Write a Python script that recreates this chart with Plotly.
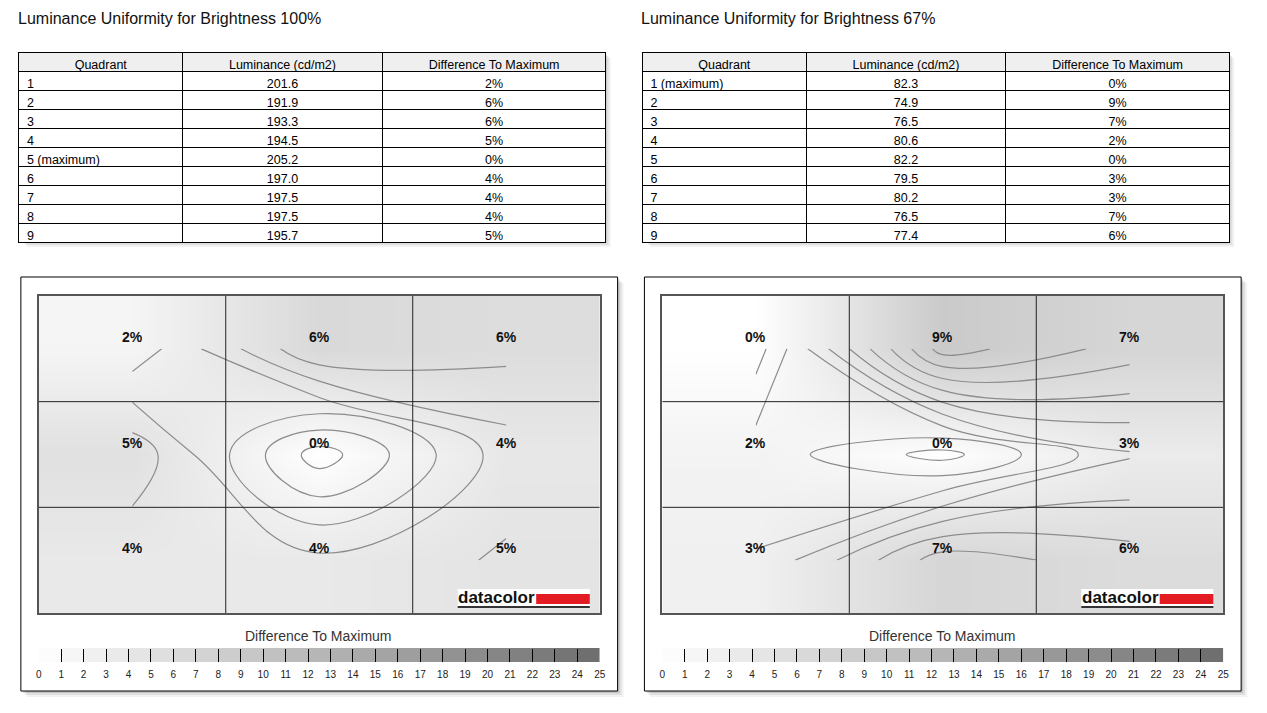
import plotly.graph_objects as go

W, H = 1267, 713

# ---------------- data ----------------
quadrants_100 = ["1", "2", "3", "4", "5 (maximum)", "6", "7", "8", "9"]
luminance_100 = [201.6, 191.9, 193.3, 194.5, 205.2, 197.0, 197.5, 197.5, 195.7]
diff_100 = ["2%", "6%", "6%", "5%", "0%", "4%", "4%", "4%", "5%"]

quadrants_67 = ["1 (maximum)", "2", "3", "4", "5", "6", "7", "8", "9"]
luminance_67 = [82.3, 74.9, 76.5, 80.6, 82.2, 79.5, 80.2, 76.5, 77.4]
diff_67 = ["0%", "9%", "7%", "2%", "0%", "3%", "3%", "7%", "6%"]

table_headers = ["Quadrant", "Luminance (cd/m2)", "Difference To Maximum"]
scale_ticks = list(range(0, 26))
titles = ["Luminance Uniformity for Brightness 100%", "Luminance Uniformity for Brightness 67%"]

GRAY_SCALE = [[0, "#ffffff"], [1, "#6c6c6c"]]
FONT = "Arial, Liberation Sans, sans-serif"


def px(x):
    return x / W


def py(y):
    return 1 - y / H


fig = go.Figure()
shapes = []
annotations = []


def shadow(x0, y0, x1, y1):
    for off, op in [(6, 0.05), (4, 0.08), (2, 0.12)]:
        shapes.append(dict(type="rect", xref="paper", yref="paper",
                           x0=px(x0 + off), x1=px(x1 + off), y0=py(y1 + off), y1=py(y0 + off),
                           fillcolor=f"rgba(0,0,0,{op})", line=dict(width=0), layer="below"))


def panel(idx, quads, lum, diffs):
    dx = 628 * idx
    lum_max = max(lum)
    z_flat = [(lum_max - v) / lum_max * 100 for v in lum]
    z = [z_flat[0:3], z_flat[3:6], z_flat[6:9]]

    # title
    annotations.append(dict(text=titles[idx], xref="paper", yref="paper", x=px(13 + dx), y=py(18),
                            xanchor="left", yanchor="middle", showarrow=False,
                            font=dict(family=FONT, size=16, color="#111")))

    # table
    tx0, tx1 = 16 + dx, 608 + dx
    shadow(18 + dx, 52, 606 + dx, 241)
    fig.add_trace(go.Table(
        domain=dict(x=[px(tx0), px(tx1)], y=[py(250), py(52)]),
        columnwidth=[164, 200, 224],
        header=dict(values=table_headers, fill_color="#efefef", height=19,
                    line=dict(color="#000", width=1), align="center",
                    font=dict(family=FONT, size=12.5, color="#000")),
        cells=dict(values=[quads, [f"{v:.1f}" for v in lum], diffs], fill_color="white", height=19,
                   line=dict(color="#000", width=1), align=["left", "center", "center"],
                   font=dict(family=FONT, size=12.5, color="#000")),
    ))

    # outer panel frame
    shadow(18 + dx, 277, 619 + dx, 691)
    shapes.append(dict(type="rect", xref="paper", yref="paper",
                       x0=px(18 + dx), x1=px(619 + dx), y0=py(691), y1=py(277),
                       fillcolor="white", line=dict(color="#000", width=1), layer="below"))

    xa = "x" if idx == 0 else "x3"
    ya = "y" if idx == 0 else "y3"
    xa2 = "x2" if idx == 0 else "x4"
    ya2 = "y2" if idx == 0 else "y4"

    centers = [0.5, 1.5, 2.5]
    fig.add_trace(go.Heatmap(z=z, x=centers, y=centers, zsmooth="best", zmin=0, zmax=25,
                             colorscale=GRAY_SCALE, showscale=False, hoverinfo="skip",
                             xaxis=xa, yaxis=ya))
    fig.add_trace(go.Contour(z=z, x=centers, y=centers, showscale=False, hoverinfo="skip",
                             contours=dict(start=0.5, end=24.5, size=1, coloring="none"),
                             line=dict(color="#8c8c8c", width=1.2, smoothing=1.3),
                             xaxis=xa, yaxis=ya))

    # grid lines between quadrants
    for k in [1, 2]:
        shapes.append(dict(type="line", xref=xa, yref=ya, x0=k, x1=k, y0=0, y1=3,
                           line=dict(color="#222", width=1), layer="above"))
        shapes.append(dict(type="line", xref=xa, yref=ya, x0=0, x1=3, y0=k, y1=k,
                           line=dict(color="#222", width=1), layer="above"))

    # percentage labels
    for i, d in enumerate(diffs):
        r, c = divmod(i, 3)
        annotations.append(dict(text=f"<b>{d}</b>", xref=xa, yref=ya, x=centers[c], y=centers[r],
                                yshift=12, showarrow=False,
                                font=dict(family=FONT, size=14, color="#111")))

    # datacolor logo
    shapes.append(dict(type="rect", xref="paper", yref="paper", x0=px(458 + dx), x1=px(591 + dx),
                       y0=py(606), y1=py(589), fillcolor="white", line=dict(width=0), layer="above"))
    shapes.append(dict(type="rect", xref="paper", yref="paper", x0=px(537 + dx), x1=px(591 + dx),
                       y0=py(604), y1=py(594), fillcolor="#e31b23", line=dict(width=0), layer="above"))
    shapes.append(dict(type="line", xref="paper", yref="paper", x0=px(458 + dx), x1=px(591 + dx),
                       y0=py(607), y1=py(607), line=dict(color="#333", width=2), layer="above"))
    annotations.append(dict(text="<b>datacolor</b>", xref="paper", yref="paper", x=px(538 + dx), y=py(597),
                            xanchor="right", yanchor="middle", showarrow=False,
                            font=dict(family=FONT, size=17, color="#111")))

    # colour scale bar
    annotations.append(dict(text="Difference To Maximum", xref="paper", yref="paper", x=px(318 + dx),
                            y=py(636), xanchor="center", yanchor="middle", showarrow=False,
                            font=dict(family=FONT, size=14, color="#333")))
    seg_x = [t + 0.5 for t in scale_ticks[:-1]]
    fig.add_trace(go.Heatmap(z=[seg_x], x=seg_x, y=[0], zmin=0, zmax=25, colorscale=GRAY_SCALE,
                             showscale=False, hoverinfo="skip", xaxis=xa2, yaxis=ya2))

    dom_x = [px(36 + dx), px(601 + dx)]
    ax_main = dict(domain=dom_x, range=[0, 3], showgrid=False, zeroline=False, showticklabels=False,
                   ticks="", showline=True, mirror=True, linecolor="#555", linewidth=1.5)
    ay_main = dict(domain=[py(613), py(296)], range=[3, 0], showgrid=False, zeroline=False,
                   showticklabels=False, ticks="", showline=True, mirror=True, linecolor="#555",
                   linewidth=1.5)
    ax_bar = dict(domain=dom_x, range=[0, 25], tickvals=scale_ticks, ticktext=[str(t) for t in scale_ticks],
                  ticks="inside", ticklen=13, tickcolor="#000", tickwidth=1, showgrid=False,
                  zeroline=False, showline=False, ticklabelstandoff=5,
                  tickfont=dict(family=FONT, size=10, color="#222"))
    ay_bar = dict(domain=[py(662), py(648)], range=[-0.5, 0.5], visible=False)
    key = lambda a: ("xaxis" if a.startswith("x") else "yaxis") + (a[1:] if len(a) > 1 else "")
    fig.update_layout({key(xa): dict(ax_main, anchor=ya), key(ya): dict(ay_main, anchor=xa),
                       key(xa2): dict(ax_bar, anchor=ya2), key(ya2): dict(ay_bar, anchor=xa2)})


panel(0, quadrants_100, luminance_100, diff_100)
panel(1, quadrants_67, luminance_67, diff_67)

fig.update_layout(width=W, height=H, margin=dict(l=0, r=0, t=0, b=0),
                  paper_bgcolor="white", plot_bgcolor="white", showlegend=False,
                  shapes=shapes, annotations=annotations)

fig.write_html("out.html", config={"displayModeBar": False},
               post_script="document.body.style.margin='0';document.body.style.overflow='hidden';")
